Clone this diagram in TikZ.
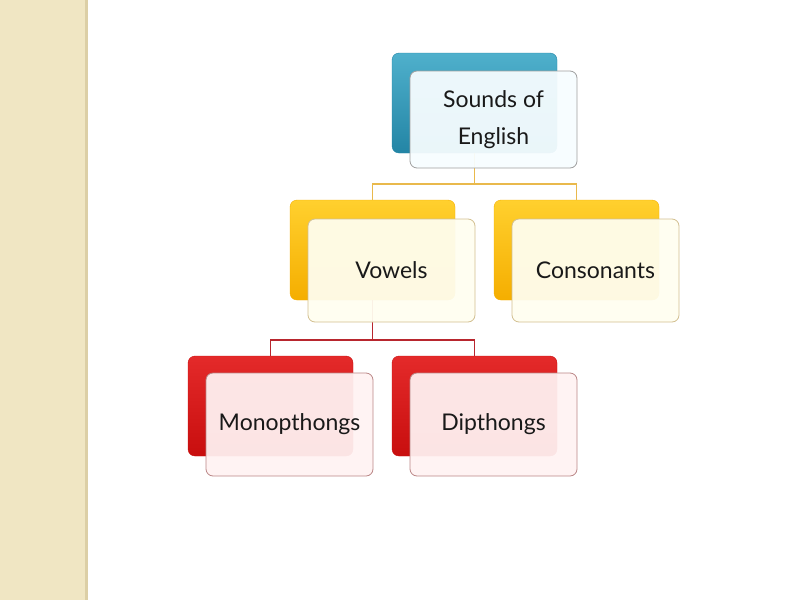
\documentclass[tikz,border=0pt]{standalone}
\usepackage{fontspec}
\setmainfont{Lato}
\definecolor{beige}{HTML}{F0E6C3}
\definecolor{beigeline}{HTML}{DCCFA6}
\definecolor{tealtop}{HTML}{4FB0CC}
\definecolor{tealbot}{HTML}{2385A5}
\definecolor{goldtop}{HTML}{FFD02E}
\definecolor{goldbot}{HTML}{F5AE00}
\definecolor{redtop}{HTML}{E42A2A}
\definecolor{redbot}{HTML}{C80E0E}
\definecolor{goldline}{HTML}{E9B94C}
\definecolor{redline}{HTML}{B8262E}
\begin{document}
\begin{tikzpicture}[x=1pt, y=-1pt,
  back/.style={rounded corners=7pt, minimum width=165pt, minimum height=100pt, inner sep=0pt},
  front/.style={rounded corners=7pt, minimum width=167pt, minimum height=103pt, inner sep=0pt,
    fill opacity=0.94, text opacity=1, line width=0.8pt, align=center,
    text=black!90, font=\fontsize{23}{37}\selectfont},
  link/.style={line width=1.8pt}
]
\useasboundingbox (0,0) rectangle (800,600);

% Strip
\fill[beige] (0,0) rectangle (86,600);
\fill[beigeline] (85,0) rectangle (88,600);

% Back boxes
\node[back, top color=tealtop, bottom color=tealbot, draw=tealbot] (topB) at (474.5,103) {};
\node[back, top color=goldtop, bottom color=goldbot, draw=goldbot] (vowB) at (372.5,250) {};
\node[back, top color=goldtop, bottom color=goldbot, draw=goldbot] (conB) at (576.5,250) {};
\node[back, top color=redtop, bottom color=redbot, draw=redbot] (monB) at (270.5,406) {};
\node[back, top color=redtop, bottom color=redbot, draw=redbot] (dipB) at (474.5,406) {};

% Links
\draw[link, goldline] (topB.south) -- ++(0,31) -| (vowB.north);
\draw[link, goldline] (topB.south) -- ++(0,31) -| (conB.north);
\draw[link, redline] (vowB.south) -- ++(0,40) -| (monB.north);
\draw[link, redline] (vowB.south) -- ++(0,40) -| (dipB.north);

% Front boxes
\node[front, minimum height=97pt, fill=cyan!3, draw=gray!75] (topF) at (493.5,119.5) {Sounds of\\English};
\node[front, fill=yellow!6, draw=goldbot!45!gray!60] (vowF) at (391.5,270.5) {Vowels};
\node[front, fill=yellow!6, draw=goldbot!45!gray!60] (conF) at (595.5,270.5) {Consonants};
\node[front, fill=red!5, draw=redbot!40!gray!70] (monF) at (289.5,424.5) {Monopthongs};
\node[front, fill=red!5, draw=redbot!40!gray!70] (dipF) at (493.5,424.5) {Dipthongs};
\end{tikzpicture}
\end{document}
